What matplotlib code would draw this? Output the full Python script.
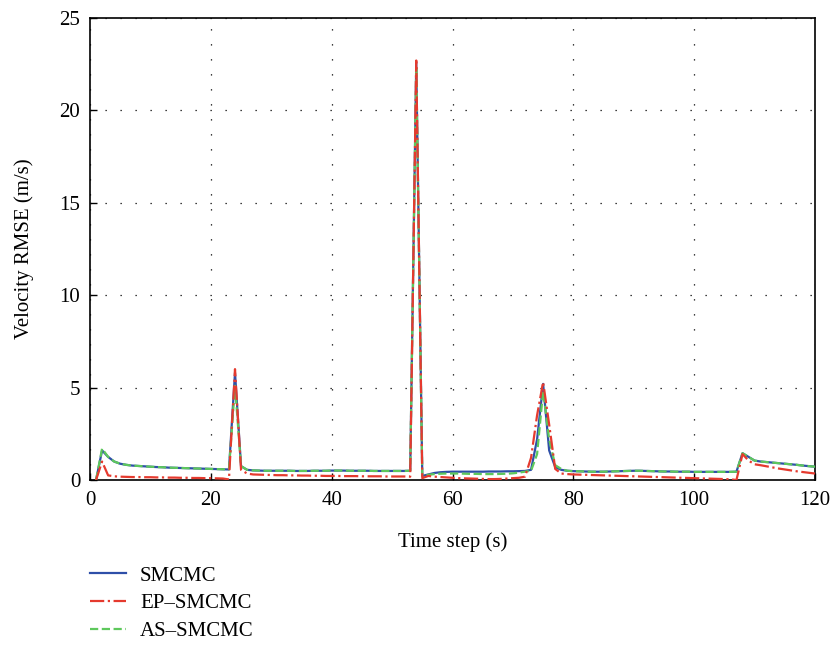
import matplotlib
matplotlib.use('Agg')
import matplotlib.pyplot as plt
import numpy as np

plt.rcParams['font.family'] = ['Liberation Serif', 'DejaVu Serif']
plt.rcParams['font.size'] = 15

t = np.arange(1, 121)

smcmc = [0.00, 1.60, 1.25, 1.00, 0.88, 0.82, 0.78, 0.76, 0.74, 0.72,
         0.70, 0.69, 0.67, 0.66, 0.65, 0.64, 0.63, 0.62, 0.61, 0.60,
         0.59, 0.58, 0.57, 5.80, 0.75, 0.55, 0.52, 0.51, 0.50, 0.50,
         0.50, 0.50, 0.50, 0.49, 0.49, 0.49, 0.50, 0.50, 0.50, 0.51,
         0.51, 0.51, 0.50, 0.50, 0.50, 0.50, 0.49, 0.49, 0.49, 0.49,
         0.49, 0.49, 0.50, 22.60, 0.22, 0.30, 0.38, 0.42, 0.44, 0.45,
         0.45, 0.45, 0.45, 0.45, 0.45, 0.46, 0.46, 0.46, 0.47, 0.47,
         0.48, 0.49, 0.55, 2.20, 5.20, 1.60, 0.70, 0.55, 0.50, 0.48,
         0.47, 0.46, 0.45, 0.45, 0.45, 0.46, 0.47, 0.48, 0.49, 0.50,
         0.50, 0.49, 0.48, 0.47, 0.46, 0.46, 0.45, 0.45, 0.45, 0.44,
         0.44, 0.44, 0.44, 0.44, 0.44, 0.44, 0.45, 1.45, 1.25, 1.05,
         1.00, 0.97, 0.94, 0.91, 0.88, 0.85, 0.82, 0.78, 0.75, 0.72]

ep_smcmc = [0.00, 1.00, 0.25, 0.20, 0.18, 0.17, 0.16, 0.16, 0.15, 0.15,
            0.14, 0.14, 0.13, 0.13, 0.12, 0.12, 0.11, 0.11, 0.10, 0.10,
            0.09, 0.08, 0.03, 6.00, 0.55, 0.35, 0.30, 0.29, 0.28, 0.27,
            0.26, 0.26, 0.25, 0.25, 0.24, 0.24, 0.23, 0.23, 0.22, 0.22,
            0.22, 0.21, 0.21, 0.21, 0.20, 0.20, 0.20, 0.20, 0.19, 0.19,
            0.19, 0.19, 0.18, 22.70, 0.10, 0.22, 0.18, 0.16, 0.14, 0.12,
            0.10, 0.09, 0.08, 0.07, 0.06, 0.05, 0.05, 0.06, 0.08, 0.10,
            0.12, 0.18, 1.20, 3.50, 5.30, 3.00, 0.60, 0.35, 0.32, 0.30,
            0.29, 0.28, 0.27, 0.26, 0.25, 0.24, 0.23, 0.22, 0.21, 0.20,
            0.19, 0.18, 0.17, 0.16, 0.15, 0.14, 0.13, 0.12, 0.11, 0.10,
            0.09, 0.08, 0.07, 0.06, 0.05, 0.04, 0.00, 1.40, 1.05, 0.85,
            0.80, 0.74, 0.68, 0.62, 0.57, 0.52, 0.47, 0.43, 0.39, 0.35]

as_smcmc = [0.00, 1.70, 1.25, 1.00, 0.88, 0.82, 0.78, 0.76, 0.74, 0.72,
            0.70, 0.69, 0.67, 0.66, 0.65, 0.64, 0.63, 0.62, 0.61, 0.60,
            0.59, 0.58, 0.57, 5.10, 0.75, 0.55, 0.52, 0.51, 0.50, 0.50,
            0.50, 0.50, 0.50, 0.49, 0.49, 0.49, 0.50, 0.50, 0.50, 0.51,
            0.51, 0.51, 0.50, 0.50, 0.50, 0.50, 0.49, 0.49, 0.49, 0.49,
            0.49, 0.49, 0.50, 22.40, 0.22, 0.28, 0.32, 0.34, 0.35, 0.35,
            0.35, 0.34, 0.33, 0.33, 0.32, 0.32, 0.32, 0.33, 0.34, 0.36,
            0.40, 0.45, 0.50, 1.40, 4.80, 2.20, 0.80, 0.60, 0.50, 0.48,
            0.47, 0.46, 0.45, 0.45, 0.45, 0.46, 0.47, 0.48, 0.49, 0.50,
            0.50, 0.49, 0.48, 0.47, 0.46, 0.46, 0.45, 0.45, 0.45, 0.44,
            0.44, 0.44, 0.44, 0.44, 0.44, 0.44, 0.45, 1.45, 1.25, 1.05,
            1.00, 0.97, 0.94, 0.91, 0.88, 0.85, 0.82, 0.78, 0.75, 0.72]

fig = plt.figure(figsize=(8.34, 6.48), dpi=100)
ax = fig.add_axes([90 / 834, 1 - 480 / 648, 725 / 834, 462 / 648])

ax.plot(t, smcmc, color='#2e4fa8', lw=1.6, label='SMCMC', zorder=3)
ax.plot(t, ep_smcmc, color='#e53a2e', lw=1.6, ls='-.', label='EP\u2013SMCMC', zorder=5)
ax.plot(t, as_smcmc, color='#5ec85c', lw=1.6, ls='--', label='AS\u2013SMCMC', zorder=4)

ax.set_xlim(0, 120)
ax.set_ylim(0, 25)
ax.set_xticks(np.arange(0, 121, 20))
ax.set_yticks(np.arange(0, 26, 5))
ax.tick_params(direction='in', length=5, width=1, color='black')
ax.tick_params(axis='x', pad=8)
ax.tick_params(axis='y', pad=7)
ax.grid(True, color='black', ls=(0, (1, 11)), lw=0.9)
for s in ax.spines.values():
    s.set_linewidth(1.2)

ax.set_xlabel('Time step (s)', labelpad=16)
ax.set_ylabel('Velocity RMSE (m/s)', labelpad=18)

fig.legend(loc='upper left', bbox_to_anchor=(90 / 834, 1 - 566 / 648),
           frameon=False, borderpad=0, borderaxespad=0, handlelength=1.75,
           handletextpad=0.65, labelspacing=0.4, fontsize=15)

fig.savefig('out.png', dpi=100)
